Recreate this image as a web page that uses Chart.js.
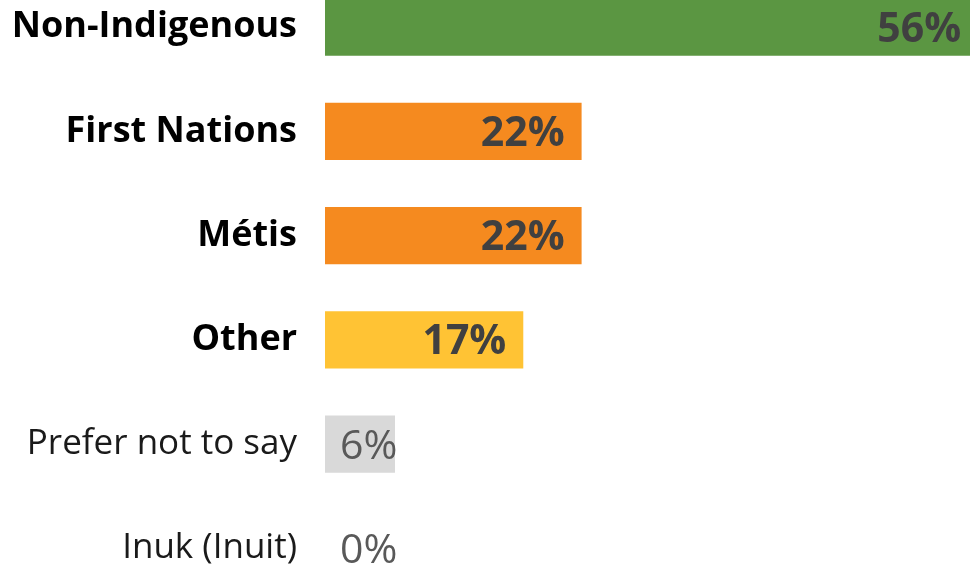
<!DOCTYPE html>
<html>
<head>
<meta charset="utf-8">
<script src="https://cdn.jsdelivr.net/npm/chart.js@4.4.1/dist/chart.umd.min.js"></script>
<style>
  html, body { margin: 0; padding: 0; background: #fff; }
  #wrap { position: relative; width: 970px; height: 565px; overflow: hidden; }
  #box { position: absolute; left: 0; top: -66px; width: 970px; height: 708px; }
</style>
</head>
<body>
<div id="wrap"><div id="box"><canvas id="barChart"></canvas></div></div>
<script>
// data
const categories = ['Non-Indigenous', 'First Nations', 'Métis', 'Other', 'Prefer not to say', 'Inuk (Inuit)'];
const shares = [56, 22, 22, 17, 6, 0];
const barColors = ['#5B9642', '#F58A1F', '#F58A1F', '#FFC334', '#D9D9D9', '#D9D9D9'];
const boldRows = [true, true, true, true, false, false];

const FONT = '"Segoe UI", "Open Sans", sans-serif';

// value labels: big bars get bold label inside the end, small ones plain text after the start
const valueLabels = {
  id: 'valueLabels',
  afterDatasetsDraw(chart) {
    const ctx = chart.ctx;
    const meta = chart.getDatasetMeta(0);
    ctx.save();
    ctx.textBaseline = 'middle';
    meta.data.forEach((bar, i) => {
      const v = shares[i];
      if (boldRows[i]) {
        ctx.font = 'bold 41px ' + FONT;
        ctx.fillStyle = '#404040';
        ctx.textAlign = 'right';
        ctx.fillText(v + '%', bar.x - 17, bar.y + 3);
      } else {
        ctx.font = '41px ' + FONT;
        ctx.fillStyle = '#595959';
        ctx.textAlign = 'left';
        ctx.fillText(v + '%', bar.base + 15, bar.y + 3);
      }
    });
    ctx.restore();
  }
};

new Chart(document.getElementById('barChart').getContext('2d'), {
  type: 'bar',
  data: {
    labels: categories,
    datasets: [{
      data: shares,
      backgroundColor: barColors,
      borderWidth: 0,
      barPercentage: 0.55,
      categoryPercentage: 1
    }]
  },
  options: {
    indexAxis: 'y',
    responsive: true,
    maintainAspectRatio: false,
    animation: false,
    layout: { padding: 0 },
    plugins: { legend: { display: false }, tooltip: { enabled: false } },
    scales: {
      x: { display: false, min: 0, max: 55.3 },
      y: {
        grid: { display: false },
        border: { display: false },
        afterFit(scale) { scale.width = 325; },
        ticks: {
          padding: 20,
          color: ctx => boldRows[ctx.index] ? '#000' : '#1a1a1a',
          font: ctx => ({ family: FONT, size: boldRows[ctx.index] ? 36 : 35, weight: boldRows[ctx.index] ? 'bold' : 'normal' })
        }
      }
    }
  },
  plugins: [valueLabels]
});
</script>
</body>
</html>
